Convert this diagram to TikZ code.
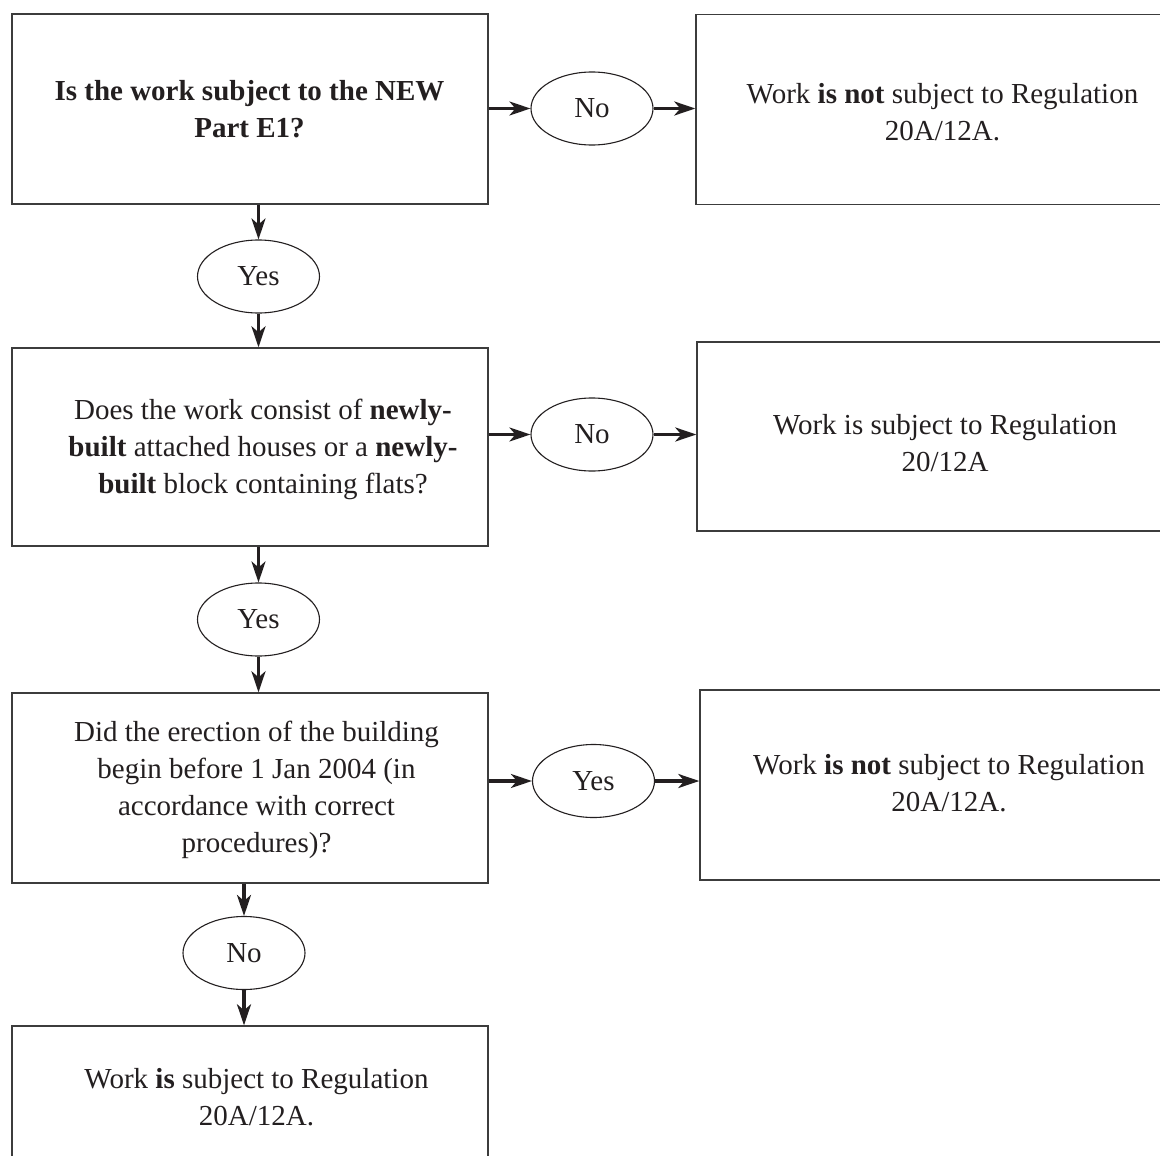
\documentclass[tikz,border=0pt]{standalone}
\usepackage{fontspec}
\setmainfont{Liberation Serif}
\usetikzlibrary{arrows.meta,shapes.geometric,calc}
\definecolor{boxgray}{HTML}{3C3C3C}
\definecolor{ink}{HTML}{231F20}
\begin{document}
\begin{tikzpicture}[x=1pt,y=-1pt,
  box/.style={draw=boxgray, line width=1.4pt, rectangle, minimum width=476pt, minimum height=190pt, inner sep=0pt},
  rbox/.style={box, minimum width=493pt},
  oval/.style={draw=ink, line width=1.1pt, ellipse, minimum width=122pt, minimum height=73pt, inner sep=0pt, text=ink, font=\fontsize{29}{37}\selectfont},
  txt/.style={align=center, text=ink, font=\fontsize{29}{37}\selectfont, inner sep=0pt, anchor=base},
  arr/.style={line width=3.2pt, draw=ink, -{Stealth[length=21pt,width=14pt,inset=6pt]}}
]
\useasboundingbox (0,0) rectangle (1160,1156);
\clip (0,0) rectangle (1160,1156);
\fill[white] (0,0) rectangle (1160,1156);

% boxes
\node[box] (A) at (250,109) {};
\node[rbox] (B) at (942.5,109.5) {};
\node[box, minimum height=198pt] (C) at (250,447) {};
\node[rbox, minimum height=189pt] (D) at (943.5,436.5) {};
\node[box] (E) at (250,788) {};
\node[rbox] (F) at (946.5,785) {};
\node[box] (G) at (250,1121) {};

% texts (anchor = baseline of the last line)
\node[txt] (At) at (249.5,137) {\textbf{Is the work subject to the NEW}\\\textbf{Part E1?}};
\node[txt] (Bt) at (942.5,140) {Work \textbf{is not} subject to Regulation\\20A/12A.};
\node[txt] (Ct) at (263,493) {Does the work consist of \textbf{newly-}\\\textbf{built} attached houses or a \textbf{newly-}\\\textbf{built} block containing flats?};
\node[txt] (Dt) at (945,471.7) {Work is subject to Regulation\\20/12A};
\node[txt] (Et) at (256.5,852.7) {Did the erection of the building\\begin before 1 Jan 2004 (in\\accordance with correct\\procedures)?};
\node[txt] (Ft) at (949,811.7) {Work \textbf{is not} subject to Regulation\\20A/12A.};
\node[txt] (Gt) at (256.5,1125) {Work \textbf{is} subject to Regulation\\20A/12A.};

% ovals
\node[oval] (N1) at (592,108.5) {No};
\node[oval] (Y1) at (258.5,276.5) {Yes};
\node[oval] (N2) at (592,434.5) {No};
\node[oval] (Y2) at (258.5,619.5) {Yes};
\node[oval] (Y3) at (593.5,781) {Yes};
\node[oval] (N3) at (244,953) {No};

% connectors
\draw[arr] (A.east |- N1.west) -- (N1.west);
\draw[arr] (N1.east) -- (N1.east -| B.west);
\draw[arr] (A.south -| Y1.north) -- (Y1.north);
\draw[arr] (Y1.south) -- (Y1.south |- C.north);
\draw[arr] (C.east |- N2.west) -- (N2.west);
\draw[arr] (N2.east) -- (N2.east -| D.west);
\draw[arr] (C.south -| Y2.north) -- (Y2.north);
\draw[arr] (Y2.south) -- (Y2.south |- E.north);
\draw[arr] (E.east |- Y3.west) -- (Y3.west);
\draw[arr] (Y3.east) -- (Y3.east -| F.west);
\draw[arr] (E.south -| N3.north) -- (N3.north);
\draw[arr] (N3.south) -- (N3.south |- G.north);
\end{tikzpicture}
\end{document}
